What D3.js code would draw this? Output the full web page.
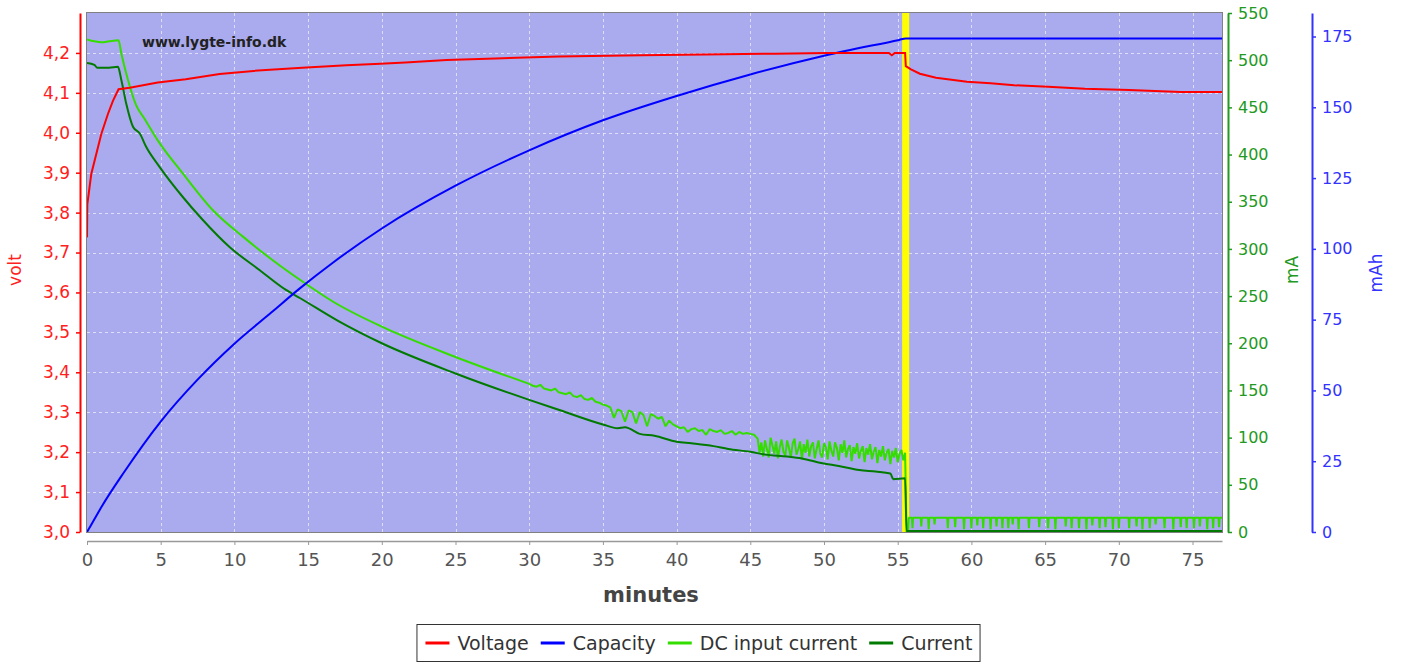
<!DOCTYPE html>
<html lang="en">
<head>
<meta charset="UTF-8"/>
<title>Charge curve</title>
<script src="https://d3js.org/d3.v7.min.js"></script>
<style>
  body { margin: 0; background: #fff; }
  svg text { font-family: "DejaVu Sans", sans-serif; }
</style>
</head>
<body>
<svg id="chart" width="1401" height="662"></svg>
<script>
// ---- data ----
const minuteTicks = [0, 5, 10, 15, 20, 25, 30, 35, 40, 45, 50, 55, 60, 65, 70, 75];
const voltTicks = [3.0, 3.1, 3.2, 3.3, 3.4, 3.5, 3.6, 3.7, 3.8, 3.9, 4.0, 4.1, 4.2];
const maTicks = [0, 50, 100, 150, 200, 250, 300, 350, 400, 450, 500, 550];
const mahTicks = [0, 25, 50, 75, 100, 125, 150, 175];

const voltT = [0, 0.02, 0.29, 0.63, 0.97, 1.42, 1.76, 2.14, 2.9, 4.8, 6.7, 9.0, 11.3, 14.6, 17.6, 19.9, 21.6, 24.4, 27.7, 32.0,
  37.6, 41.9, 46.7, 50.2, 54.4, 54.6, 54.8, 55.5, 55.55, 55.9, 56.5, 57.6, 58.65, 59.7, 61.3, 62.9, 65.2, 67.7, 70.7, 74.2, 77];
const voltV = [3.738, 3.82, 3.897, 3.947, 3.997, 4.047, 4.08, 4.109, 4.113, 4.126, 4.134, 4.147, 4.155, 4.163, 4.169, 4.173, 4.176, 4.182, 4.186, 4.191,
  4.194, 4.196, 4.198, 4.2, 4.2, 4.194, 4.2, 4.2, 4.167, 4.159, 4.148, 4.138, 4.133, 4.128, 4.124, 4.119, 4.115, 4.11, 4.107, 4.102, 4.102];

const capT = [0, 0.5, 1, 2.5, 5, 7.5, 10, 12.5, 14.5, 16.7, 20, 25, 30, 35, 40, 45, 50, 55.1, 55.55, 77];
const capV = [0, 4.5, 9, 21, 39, 53.8, 66.5, 77.5, 86.3, 95.2, 107.2, 122.3, 134.8, 145.4, 154, 161.6, 168.2, 173.8, 174.3, 174.3];

// DC input current: smooth start, noisy part, drop, then idle tail with short dips
const dcT = [0, 0.5, 1, 1.5, 2.14, 2.33, 2.78, 3.34, 3.9, 4.8, 6.5, 8.54, 10.58, 12.6, 14.47, 16.7, 20, 25];
const dcV = [522, 520, 519, 520, 521, 507, 479, 452, 438, 415, 380, 341, 313, 288, 267, 244, 217.6, 185.5];
const dcNoiseAStart = 30, dcNoiseAStep = 0.25;
const dcNoiseA = [157, 155, 154, 156, 152, 151, 150, 152, 148, 147, 146, 148, 144, 143, 145, 141, 140, 142, 138, 137,
  135, 134, 132, 121, 130, 128, 117, 129, 127, 115, 127, 124, 112, 125, 123, 120, 122, 112, 118, 114,
  112, 110, 111, 106, 109, 110, 107, 108, 103, 109, 107, 106, 108, 104, 105, 107, 103, 106, 104, 105,
  104, 103];
const dcNoiseBStart = 45.5, dcNoiseBStep = 0.125;
const dcNoiseB = [99, 84, 95, 80, 97, 88, 79, 100, 92, 83, 96, 78, 90, 98, 85, 81, 97, 89, 79, 94,
  99, 82, 87, 96, 77, 93, 84, 98, 80, 91, 95, 78, 88, 97, 83, 79, 94, 90, 77, 96,
  86, 80, 95, 89, 76, 93, 84, 97, 79, 88, 92, 75, 90, 83, 94, 78, 86, 91, 74, 89,
  82, 93, 77, 85, 90, 73, 87, 80, 91, 76, 84, 88, 72, 86, 79, 89, 74, 83, 87, 76, 84];
const dcDropT = [55.6, 55.7, 55.75];
const dcDropV = [0, 0, 15];
const dcIdle = 15;
const dcDipT = [56.0, 56.6, 57.1, 57.5, 58.4, 58.9, 59.5, 60.0, 60.4, 60.8, 61.3, 61.7, 62.1, 62.5, 62.8, 63.2, 63.9, 64.6, 65.2, 65.7,
  66.4, 66.8, 67.3, 67.8, 68.2, 68.7, 69.1, 69.6, 70.0, 70.7, 71.2, 71.6, 72.1, 72.5, 73.1, 73.7, 74.2, 74.6, 75.1, 75.5, 76.0, 76.4, 76.8];
const dcDipV = [4, 6, 3, 8, 4, 5, 3, 4, 7, 4, 3, 6, 4, 4, 8, 3, 4, 5, 4, 3,
  6, 4, 4, 3, 7, 4, 5, 3, 4, 4, 6, 3, 4, 8, 4, 3, 5, 4, 4, 6, 3, 4, 5];

const curT = [0, 0.5, 0.7, 1.5, 2.1, 2.33, 2.66, 3.12, 3.57, 4.02, 4.92, 6.5, 7.86, 9.67, 11.7, 13.5, 14.47, 17, 20, 25,
  30, 32.1, 35, 36, 36.5, 37.5, 38.5, 40, 41, 42.5, 43.5, 45, 46, 47.5, 48.5, 49.9, 51, 52.4, 53.5, 54.5, 54.7, 55.5, 55.6, 77];
const curV = [497, 495, 492, 492, 493, 479, 454, 429.5, 422.5, 408, 387, 355, 330.6, 302, 277.7, 256.5, 247.7, 224, 200, 168,
  140, 129, 114, 110, 111, 104, 102, 95.7, 94, 91, 88, 85, 82, 80, 78, 72.8, 70, 65.7, 64, 62, 56, 57, 1, 1];

const chargeEnd = [55.3, 55.78]; // yellow marker

// ---- layout ----
const svg = d3.select('#chart');
const pLeft = 87, pRight = 1222, pTop = 13, pBottom = 532;

const x = d3.scaleLinear().domain([0, 77]).range([pLeft, pRight]);
const yV = d3.scaleLinear().domain([3.0, 4.3]).range([pBottom, pTop]);
const yMA = d3.scaleLinear().domain([0, 550]).range([pBottom, pTop]);
const yMAH = d3.scaleLinear().domain([0, 183.3]).range([pBottom, pTop]);

const zip = (ts, vs) => ts.map((t, i) => [t, vs[i]]);
const voltage = zip(voltT, voltV);
const capacity = zip(capT, capV);
const current = zip(curT, curV);
const dcHead = zip(dcT, dcV);
const dcNoisy = dcNoiseA.map((v, i) => [dcNoiseAStart + i * dcNoiseAStep, v])
  .concat(dcNoiseB.map((v, i) => [dcNoiseBStart + i * dcNoiseBStep, v]))
  .concat(zip(dcDropT, dcDropV));
dcDipT.forEach((t, i) => {
  dcNoisy.push([t - 0.04, dcIdle], [t, dcDipV[i]], [t + 0.04, dcIdle]);
});
dcNoisy.push([77, dcIdle]);

// plot background
svg.append('rect')
  .attr('x', pLeft).attr('y', pTop)
  .attr('width', pRight - pLeft).attr('height', pBottom - pTop)
  .attr('fill', '#aaaaee');

// grid
const grid = svg.append('g')
  .attr('stroke', '#ffffff').attr('stroke-opacity', 0.6)
  .attr('stroke-dasharray', '3,3').attr('stroke-width', 1);
grid.selectAll('.vg').data(minuteTicks.slice(1)).enter().append('line')
  .attr('x1', d => Math.round(x(d)) + 0.5).attr('x2', d => Math.round(x(d)) + 0.5)
  .attr('y1', pTop).attr('y2', pBottom);
grid.selectAll('.hg').data(voltTicks.slice(1)).enter().append('line')
  .attr('y1', d => Math.round(yV(d)) + 0.5).attr('y2', d => Math.round(yV(d)) + 0.5)
  .attr('x1', pLeft).attr('x2', pRight);

// charge-end marker
svg.append('rect')
  .attr('x', x(chargeEnd[0])).attr('y', pTop)
  .attr('width', x(chargeEnd[1]) - x(chargeEnd[0])).attr('height', pBottom - pTop)
  .attr('fill', '#ffff00');

svg.append('clipPath').attr('id', 'plotclip')
  .append('rect').attr('x', pLeft).attr('y', pTop)
  .attr('width', pRight - pLeft).attr('height', pBottom - pTop);

const plot = svg.append('g').attr('clip-path', 'url(#plotclip)');

const lineOn = (ys, curve) => d3.line().curve(curve || d3.curveLinear).x(d => x(d[0])).y(d => ys(d[1]));

// DC input: smooth head joined to the noisy part
plot.append('path').datum(dcHead.concat([dcNoisy[0]]))
  .attr('d', lineOn(yMA, d3.curveMonotoneX)).attr('fill', 'none')
  .attr('stroke', '#33dd00').attr('stroke-width', 2);
plot.append('path').datum(dcNoisy)
  .attr('d', lineOn(yMA)).attr('fill', 'none')
  .attr('stroke', '#33dd00').attr('stroke-width', 2).attr('stroke-linejoin', 'bevel');
plot.append('path').datum(current)
  .attr('d', lineOn(yMA, d3.curveMonotoneX)).attr('fill', 'none')
  .attr('stroke', '#007a00').attr('stroke-width', 2);
plot.append('path').datum(capacity)
  .attr('d', lineOn(yMAH, d3.curveMonotoneX)).attr('fill', 'none')
  .attr('stroke', '#0000ff').attr('stroke-width', 2);
plot.append('path').datum(voltage)
  .attr('d', lineOn(yV)).attr('fill', 'none')
  .attr('stroke', '#ff0000').attr('stroke-width', 2);

// plot border
svg.append('rect')
  .attr('x', pLeft - 0.5).attr('y', pTop - 0.5)
  .attr('width', pRight - pLeft + 1).attr('height', pBottom - pTop + 1)
  .attr('fill', 'none').attr('stroke', '#808080');

// watermark
svg.append('text')
  .attr('x', 142).attr('y', 47)
  .attr('font-size', 14).attr('font-weight', 'bold').attr('fill', '#222')
  .text('www.lygte-info.dk');

// axes
function styleAxis(g, color, textColor, size) {
  g.select('.domain').attr('stroke', color).attr('stroke-width', 2);
  g.selectAll('.tick line').attr('stroke', color).attr('stroke-width', 1.5);
  g.selectAll('.tick text').attr('fill', textColor)
    .attr('font-size', size).attr('font-family', '"DejaVu Sans", sans-serif');
}

svg.append('g').attr('transform', 'translate(80,0)')
  .call(d3.axisLeft(yV).tickValues(voltTicks).tickSize(4).tickSizeOuter(0).tickPadding(6)
    .tickFormat(d => d.toFixed(1).replace('.', ',')))
  .call(g => styleAxis(g, '#ff0000', '#ff2020', 17));

svg.append('g').attr('transform', 'translate(1228,0)')
  .call(d3.axisRight(yMA).tickValues(maTicks).tickSize(4).tickSizeOuter(0).tickPadding(6))
  .call(g => styleAxis(g, '#229922', '#229922', 16));

svg.append('g').attr('transform', 'translate(1312,0)')
  .call(d3.axisRight(yMAH).tickValues(mahTicks).tickSize(4).tickSizeOuter(0).tickPadding(6))
  .call(g => styleAxis(g, '#3333ff', '#3333ff', 16));

svg.append('g').attr('transform', 'translate(0,541)')
  .call(d3.axisBottom(x).tickValues(minuteTicks).tickSize(4).tickSizeOuter(0).tickPadding(8))
  .call(g => {
    g.select('.domain').attr('stroke', '#999').attr('stroke-width', 1.5);
    g.selectAll('.tick line').attr('stroke', '#999');
    g.selectAll('.tick text').attr('fill', '#555').attr('font-size', 18)
      .attr('font-family', '"DejaVu Sans", sans-serif');
  });

// axis titles
svg.append('text')
  .attr('transform', 'translate(21,270) rotate(-90)')
  .attr('text-anchor', 'middle').attr('font-size', 17).attr('fill', '#ff2020')
  .text('volt');
svg.append('text')
  .attr('transform', 'translate(1298,270) rotate(-90)')
  .attr('text-anchor', 'middle').attr('font-size', 17).attr('fill', '#229922')
  .text('mA');
svg.append('text')
  .attr('transform', 'translate(1382,273) rotate(-90)')
  .attr('text-anchor', 'middle').attr('font-size', 17).attr('fill', '#3333ff')
  .text('mAh');
svg.append('text')
  .attr('x', 651).attr('y', 602)
  .attr('text-anchor', 'middle').attr('font-size', 21).attr('font-weight', 'bold').attr('fill', '#444')
  .text('minutes');

// legend
const legendItems = [
  { name: 'Voltage', color: '#ff0000' },
  { name: 'Capacity', color: '#0000ff' },
  { name: 'DC input current', color: '#33dd00' },
  { name: 'Current', color: '#007a00' }
];
const legend = svg.append('g');
const box = legend.append('rect').attr('fill', '#fff').attr('stroke', '#333');
let cx = 0;
legendItems.forEach((it, i) => {
  const g = legend.append('g').attr('transform', `translate(${cx},0)`);
  g.append('line').attr('x1', 0).attr('x2', 24).attr('y1', 0).attr('y2', 0)
    .attr('stroke', it.color).attr('stroke-width', 3);
  const t = g.append('text').attr('x', 32).attr('y', 7)
    .attr('font-size', 19).attr('fill', '#333').text(it.name);
  cx += 32 + t.node().getComputedTextLength() + 12;
});
const legW = cx - 12;
const legX = 699 - legW / 2;
legend.attr('transform', `translate(${legX},643)`);
box.attr('x', -8.5).attr('y', -18.5).attr('width', legW + 16).attr('height', 37);
</script>
</body>
</html>
